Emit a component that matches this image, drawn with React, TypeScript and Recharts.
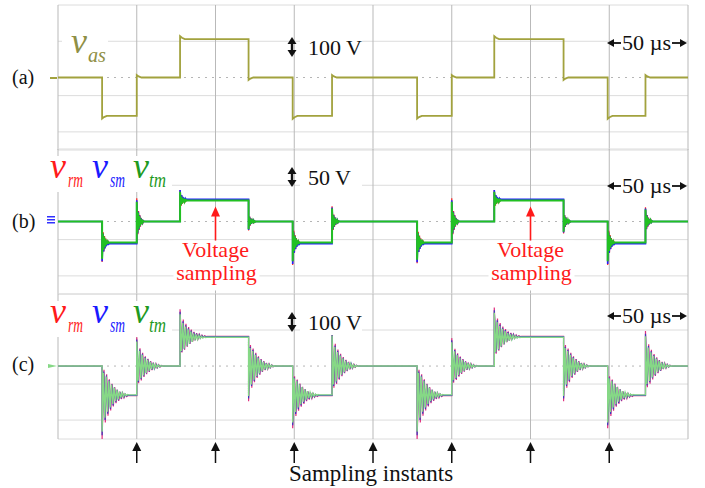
import { ComposedChart, Line, Scatter, XAxis, YAxis, CartesianGrid, ReferenceLine } from 'recharts';

const timeTicks = [0, 50, 100, 150, 200, 250, 300, 350, 400]; // µs, 50 µs/div
const sampleInstants = [50, 100, 150, 200, 250, 300, 350];
const voltageSampleTimes = [100, 300];

// switching edges (µs) and the level (in steps) before the first edge and after each edge
const edgeTimes = [28, 50, 77.5, 121, 149, 174, 228, 250, 277, 321, 349, 373];
const levelSteps = [0, -1, 0, 1, 0, -1, 0, -1, 0, 1, 0, -1, 0];

// (a) v_as, 100 V/div
const vasLevel = 212;
const vasOvershoot = [15, 14, 16, 14, 16, 14, 15, 14, 16, 14, 16, 14];
const vasRing = [[0, 1], [1.2, 0.45], [3, 0]];

// r, s, t measured phases
const seriesNames = ['v_rm', 'v_sm', 'v_tm'];
const ringScale = [1, 0.92, 0.85];
const ringShift = [0.35, 0.18, 0];

// (b) 50 V/div
const bColors = ['#ff2020', '#2020ff', '#22c022'];
const bWidths = [1.2, 1.6, 2];
const bLevels = [59, 61, 58];
const bOvershoot = [53, 64, 28, 25, 61, 42, 56, 64, 28, 33, 61, 39];
const bRing = [
  [0, 1], [0.4, -0.55], [0.8, 0.45], [1.2, -0.36], [1.6, 0.28], [2.0, -0.22],
  [2.4, 0.16], [2.8, -0.12], [3.2, 0.08], [3.6, -0.05], [4.0, 0.03], [4.4, 0],
];

// (c) 100 V/div
const cColors = ['#e0307f', '#3a3ac0', '#86d886'];
const cWidths = [1.2, 1.2, 1.4];
const cLevels = [165, 163, 160];
const cOvershoot = [240, 160, 150, 195, 180, 200, 240, 155, 160, 195, 180, 195];
const cRing = [
  [0, 1], [0.85, -0.6], [1.7, 0.62], [2.55, -0.5], [3.4, 0.46], [4.25, -0.38],
  [5.1, 0.34], [5.95, -0.28], [6.8, 0.25], [7.65, -0.2], [8.5, 0.17], [9.35, -0.14],
  [10.2, 0.12], [11.05, -0.09], [11.9, 0.075], [12.75, -0.055], [13.6, 0.045], [14.45, -0.03],
  [15.3, 0.02], [16.15, -0.01], [17, 0],
];

const ticksA = [-400, -300, -200, -100, 100, 200, 300, 400];
const ticksB = [-200, -150, -100, -50, 50, 100, 150, 200];

const FONT = "'Liberation Serif', 'Times New Roman', serif";

function trace(level: number, overshoot: number[], ring: number[][], scale: number, shift: number) {
  const pts = [{ t: 0, v: levelSteps[0] * level }];
  edgeTimes.forEach((t, i) => {
    const from = levelSteps[i] * level;
    const to = levelSteps[i + 1] * level;
    const dir = Math.sign(to - from);
    pts.push({ t, v: from });
    ring.forEach(([dt, f]) => {
      pts.push({ t: t + (dt === 0 ? 0 : dt + shift), v: to + dir * overshoot[i] * scale * f });
    });
  });
  pts.push({ t: 400, v: levelSteps[levelSteps.length - 1] * level });
  return pts;
}

interface Series {
  key: string;
  color: string;
  width: number;
  data: { t: number; v: number }[];
}

const panelA: Series[] = [
  { key: 'v_as', color: '#a2a23e', width: 1.8, data: trace(vasLevel, vasOvershoot, vasRing, 1, 0) },
];
const panelB: Series[] = seriesNames.map((n, i) => ({
  key: n, color: bColors[i], width: bWidths[i],
  data: trace(bLevels[i], bOvershoot, bRing, ringScale[i], ringShift[i]),
}));
const panelC: Series[] = seriesNames.map((n, i) => ({
  key: n, color: cColors[i], width: cWidths[i],
  data: trace(cLevels[i], cOvershoot, cRing, ringScale[i], ringShift[i]),
}));

function VoltageSampleMark(props: any) {
  const { cx, cy } = props;
  if (cx == null || cy == null) return null;
  return (
    <g>
      <rect x={cx - 42} y={cy + 40} width={86} height={50} fill="#fff" />
      <line x1={cx} y1={cy + 14} x2={cx} y2={cy + 40} stroke="#ff1a1a" strokeWidth={1.6} />
      <polygon points={`${cx},${cy + 6} ${cx - 4.5},${cy + 16} ${cx + 4.5},${cy + 16}`} fill="#ff1a1a" />
      <text x={cx} y={cy + 57} textAnchor="middle" fontFamily={FONT} fontSize={22} fill="#ff1a1a">Voltage</text>
      <text x={cx + 1} y={cy + 80} textAnchor="middle" fontFamily={FONT} fontSize={22} fill="#ff1a1a">sampling</text>
    </g>
  );
}

function SampleArrow(props: any) {
  const { cx, cy } = props;
  if (cx == null || cy == null) return null;
  return (
    <g>
      <line x1={cx} y1={cy + 4} x2={cx} y2={cy + 21} stroke="#111" strokeWidth={1.5} />
      <polygon points={`${cx},${cy} ${cx - 4.5},${cy + 9} ${cx + 4.5},${cy + 9}`} fill="#111" />
    </g>
  );
}

function Panel({ top, domain, ticks, series, children }: {
  top: number; domain: number[]; ticks: number[]; series: Series[]; children?: any;
}) {
  return (
    <div style={{ position: 'absolute', left: 0, top }}>
      <ComposedChart width={705} height={147} margin={{ top: 1, right: 17, bottom: 1, left: 58 }}>
        <XAxis type="number" dataKey="t" domain={[0, 400]} ticks={timeTicks} hide />
        <YAxis type="number" dataKey="v" domain={domain} ticks={ticks} hide />
        <CartesianGrid vertical={false} stroke="#dcdcdc" />
        <CartesianGrid horizontal={false} stroke="#b9b9b9" />
        <ReferenceLine y={0} stroke="#b5b5b5" strokeDasharray="2 5" />
        {series.map((s) => (
          <Line
            key={s.key}
            data={s.data}
            dataKey="v"
            type="linear"
            stroke={s.color}
            strokeWidth={s.width}
            dot={false}
            activeDot={false}
            isAnimationActive={false}
          />
        ))}
        {children}
      </ComposedChart>
    </div>
  );
}

function VSymbol({ x, y, color, sub, subX = 18, subW = 16 }: {
  x: number; y: number; color: string; sub: string; subX?: number; subW?: number;
}) {
  return (
    <g fontFamily={FONT} fontStyle="italic" fill={color}>
      <text x={x} y={y} fontSize={36}>v</text>
      <text x={x + subX} y={y + 9} fontSize={21} textLength={subW} lengthAdjust="spacingAndGlyphs">{sub}</text>
    </g>
  );
}

function VLabels({ y }: { y: number }) {
  return (
    <g>
      <rect x={44} y={y - 22} width={128} height={36} fill="#fff" />
      <VSymbol x={50} y={y} color="#ff1a1a" sub="rm" subW={15} />
      <VSymbol x={92} y={y} color="#1a1aff" sub="sm" subW={15} />
      <VSymbol x={133} y={y} color="#1f9a1f" sub="tm" subX={16} subW={17} />
    </g>
  );
}

function Scale({ y, volts }: { y: number; volts: string }) {
  const x = 292;
  const t = y - 18;
  const b = y + 2;
  return (
    <g fontFamily={FONT}>
      <rect x={300} y={y - 17} width={62} height={22} fill="#fff" />
      <line x1={x} y1={t + 4} x2={x} y2={b - 4} stroke="#111" strokeWidth={2.4} />
      <polygon points={`${x},${t} ${x - 4.5},${t + 7} ${x + 4.5},${t + 7}`} fill="#111" />
      <polygon points={`${x},${b} ${x - 4.5},${b - 7} ${x + 4.5},${b - 7}`} fill="#111" />
      <text x={308} y={y} fontSize={22} fill="#111">{volts}</text>
    </g>
  );
}

function TimeScale({ y }: { y: number }) {
  const m = y - 7;
  return (
    <g fontFamily={FONT}>
      <rect x={612} y={y - 15} width={72} height={20} fill="#fff" />
      <line x1={610} y1={m} x2={621} y2={m} stroke="#111" strokeWidth={1.8} />
      <polygon points={`607,${m} 614,${m - 4} 614,${m + 4}`} fill="#111" />
      <text x={622} y={y} fontSize={21} fill="#111" textLength={49} lengthAdjust="spacingAndGlyphs">50 µs</text>
      <line x1={672} y1={m} x2={684} y2={m} stroke="#111" strokeWidth={1.8} />
      <polygon points={`687,${m} 680,${m - 4} 680,${m + 4}`} fill="#111" />
    </g>
  );
}

function Overlay() {
  return (
    <svg width={705} height={488} style={{ position: 'absolute', left: 0, top: 0, pointerEvents: 'none' }}>
      <g fontFamily={FONT} fontSize={20} fill="#111">
        <text x={12} y={84}>(a)</text>
        <text x={12} y={228}>(b)</text>
        <text x={12} y={371}>(c)</text>
      </g>
      <rect x={50} y={77} width={7} height={2} fill="#a2a23e" />
      <rect x={47} y={216} width={8} height={1.5} fill="#3030ff" />
      <rect x={47} y={219} width={8} height={1.5} fill="#3030ff" />
      <rect x={47} y={222} width={8} height={1.5} fill="#3030ff" />
      <polygon points="48,364 57,366 48,368" fill="#86d886" />

      <rect x={62} y={28} width={46} height={38} fill="#fff" />
      <VSymbol x={71} y={53} color="#8f8f45" sub="as" subX={17} subW={18} />
      <VLabels y={178} />
      <VLabels y={323} />

      <Scale y={55} volts="100 V" />
      <Scale y={185} volts="50 V" />
      <Scale y={330} volts="100 V" />
      <TimeScale y={50} />
      <TimeScale y={193} />
      <TimeScale y={323} />

      <text x={371} y={481} textAnchor="middle" fontFamily={FONT} fontSize={23} fill="#111">Sampling instants</text>
    </svg>
  );
}

export default function App() {
  return (
    <div style={{ position: 'absolute', left: 0, top: 0, width: 705, height: 488, background: '#fff', overflow: 'hidden' }}>
      <Panel top={4} domain={[-400, 400]} ticks={ticksA} series={panelA} />
      <Panel top={148} domain={[-200, 200]} ticks={ticksB} series={panelB}>
        <Scatter
          data={voltageSampleTimes.map((t) => ({ t, v: bLevels[2] }))}
          shape={VoltageSampleMark}
          isAnimationActive={false}
        />
      </Panel>
      <Panel top={293} domain={[-400, 400]} ticks={ticksA} series={panelC} />
      <div style={{ position: 'absolute', left: 0, top: 439 }}>
        <ComposedChart width={705} height={26} margin={{ top: 3, right: 17, bottom: 2, left: 58 }}>
          <XAxis type="number" dataKey="t" domain={[0, 400]} hide />
          <YAxis type="number" dataKey="y" domain={[0, 1]} hide />
          <Scatter
            data={sampleInstants.map((t) => ({ t, y: 1 }))}
            shape={SampleArrow}
            isAnimationActive={false}
          />
        </ComposedChart>
      </div>
      <Overlay />
    </div>
  );
}
